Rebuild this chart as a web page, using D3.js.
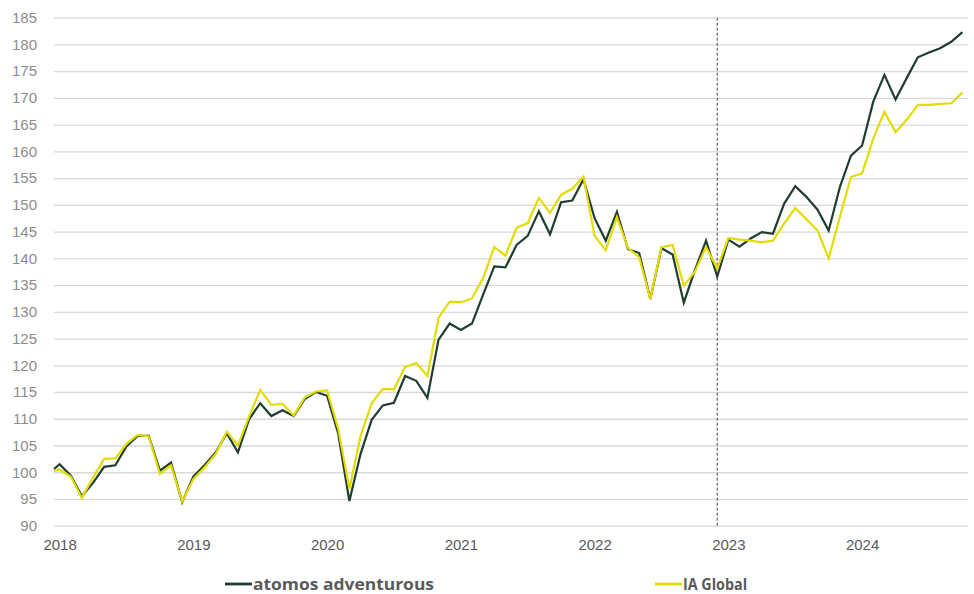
<!DOCTYPE html>
<html>
<head>
<meta charset="utf-8">
<script src="https://cdn.jsdelivr.net/npm/d3@7"></script>
<style>
  body { margin: 0; background: #fff; }
  svg { display: block; font-family: "Open Sans", "Noto Sans", sans-serif; }
</style>
</head>
<body>
<div id="chart"></div>
<script>
// months since Jan 2018 (first value sits half a month before)
const months = [-0.5].concat(d3.range(0, 82));

const atomos = [
  100.6, 101.5, 99.4, 95.5, 98.0, 101.0, 101.3, 104.8, 106.8, 106.8, 100.3, 101.8, 94.4,
  99.2, 101.3, 103.7, 107.3, 103.7, 109.9, 112.9, 110.5, 111.6, 110.5, 113.7, 115.0,
  114.3, 107.2, 94.6, 103.4, 109.8, 112.5, 113.0, 118.0, 117.1, 113.9, 124.8, 127.8,
  126.6, 127.8, 133.2, 138.5, 138.3, 142.5, 144.2, 148.8, 144.5, 150.5, 150.8, 154.8,
  147.5, 143.3, 148.7, 141.7, 141.0, 132.4, 141.9, 140.7, 131.7, 137.8, 143.3, 136.6,
  143.5, 142.2, 143.7, 144.9, 144.6, 150.2, 153.5, 151.5, 149.1, 145.2, 153.3, 159.2,
  161.1, 169.3, 174.3, 169.7, 173.7, 177.6, 178.5, 179.3, 180.5, 182.3
];

const iaGlobal = [
  100.2, 100.5, 99.2, 95.2, 99.0, 102.5, 102.6, 105.3, 107.0, 106.7, 99.7, 101.3, 94.5,
  98.7, 100.9, 103.4, 107.6, 105.0, 110.4, 115.4, 112.6, 112.8, 110.6, 114.0, 115.1,
  115.3, 108.1, 96.9, 106.7, 112.9, 115.6, 115.5, 119.7, 120.4, 118.0, 128.9, 131.9,
  131.8, 132.5, 136.3, 142.1, 140.5, 145.7, 146.6, 151.3, 148.5, 151.9, 153.0, 155.3,
  144.2, 141.5, 147.7, 141.9, 140.2, 132.4, 142.1, 142.5, 134.9, 137.5, 142.1, 138.1,
  143.8, 143.5, 143.3, 143.0, 143.3, 146.5, 149.4, 147.3, 145.2, 140.0, 147.7, 155.2,
  155.9, 162.4, 167.4, 163.6, 165.9, 168.7, 168.7, 168.9, 169.0, 171.0
];

const yearLabels = ["2018", "2019", "2020", "2021", "2022", "2023", "2024"];
const yTicks = d3.range(90, 186, 5);
const markerMonth = 59; // Dec 2022

const series = [
  { name: "atomos adventurous", values: atomos, color: "#1f3e2e" },
  { name: "IA Global", values: iaGlobal, color: "#e4dc00" }
];

const width = 974, height = 594;

const svg = d3.select("#chart").append("svg")
    .attr("width", width)
    .attr("height", height);

const x = d3.scaleLinear().domain([-0.5, 81.5]).range([54, 968]);
const y = d3.scaleLinear().domain([90, 185]).range([525.7, 17.7]);

// gridlines + y labels
const yAxis = svg.append("g")
    .attr("transform", "translate(54,0)")
    .call(d3.axisLeft(y).tickValues(yTicks).tickSize(-(968 - 54)).tickPadding(17));
yAxis.select(".domain").remove();
yAxis.selectAll(".tick line").attr("stroke", "#d9d9d9").attr("stroke-width", 1.3);
yAxis.selectAll(".tick text")
    .attr("fill", "#8c8c8c")
    .style("font-size", "15px");

// x labels
const xAxis = svg.append("g")
    .attr("transform", "translate(0,526)")
    .call(d3.axisBottom(x)
      .tickValues(yearLabels.map((d, i) => i * 12))
      .tickFormat((d, i) => yearLabels[i])
      .tickSize(0)
      .tickPadding(13));
xAxis.select(".domain").remove();
xAxis.selectAll(".tick text")
    .attr("fill", "#595959")
    .style("font-size", "15px");

// dashed marker
svg.append("line")
    .attr("x1", x(markerMonth)).attr("x2", x(markerMonth))
    .attr("y1", y(185)).attr("y2", y(90))
    .attr("stroke", "#404040")
    .attr("stroke-width", 1)
    .attr("stroke-dasharray", "3,2");

const line = d3.line()
    .x((d, i) => x(months[i]))
    .y(d => y(d));

// dark first, yellow on top
series.forEach(s => {
  svg.append("path")
      .datum(s.values)
      .attr("fill", "none")
      .attr("stroke", s.color)
      .attr("stroke-width", 2.2)
      .attr("d", line);
});

// legend
const legendX = [225, 655];
const legendW = [181, 64];
const legend = svg.selectAll(".legend")
    .data(series)
    .enter().append("g")
    .attr("class", "legend")
    .attr("transform", (d, i) => `translate(${legendX[i]},584)`);
legend.append("line")
    .attr("x1", 0).attr("x2", 27)
    .attr("stroke", d => d.color)
    .attr("stroke-width", 2.8);
legend.append("text")
    .attr("x", 28)
    .attr("dy", "0.35em")
    .attr("fill", "#595959")
    .attr("textLength", (d, i) => legendW[i])
    .attr("lengthAdjust", "spacingAndGlyphs")
    .style("font-size", "16.5px")
    .style("font-weight", "bold")
    .text(d => d.name);
</script>
</body>
</html>
